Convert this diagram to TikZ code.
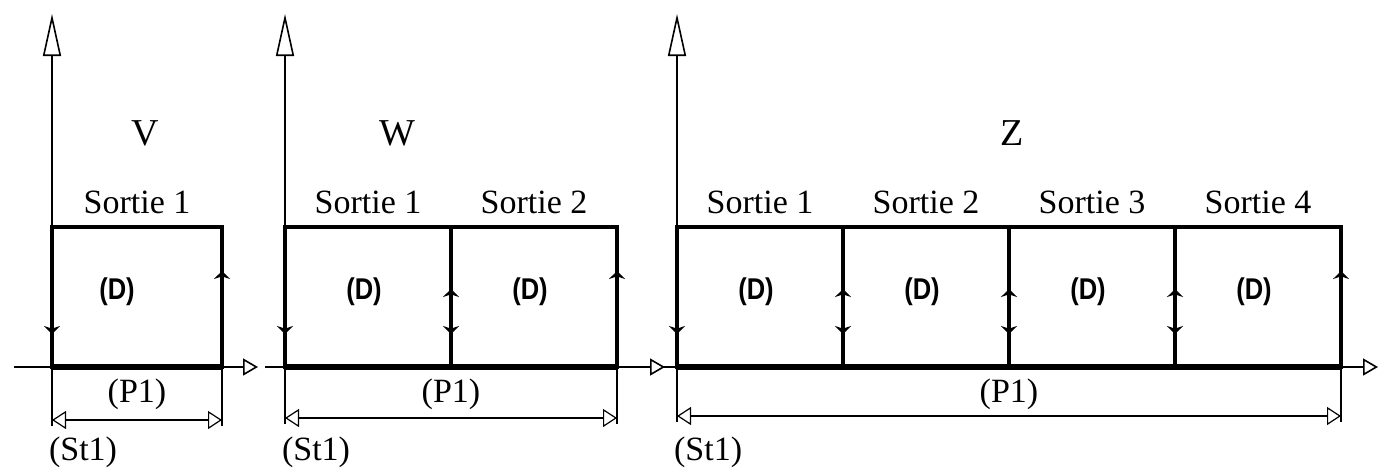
\documentclass[tikz,border=0pt]{standalone}
\usepackage{fontspec}
\setmainfont{Liberation Serif}
\newfontfamily\dfont{Liberation Sans}
\usetikzlibrary{arrows.meta,calc}
\tikzset{
  axe/.style={line width=0.8pt,-{Triangle[open,length=7.5pt,width=8.5pt,fill=white]}},
  axev/.style={line width=0.8pt,-{Triangle[open,length=21pt,width=9pt,fill=white]}},
  bord/.style={line width=1.7pt},
  fond/.style={line width=2.6pt},
  cote/.style={line width=0.6pt,{Triangle[open,length=7pt,width=9pt]}-{Triangle[open,length=7pt,width=9pt]}},
  flux/.style={line width=1.1pt,-{Stealth[length=4pt,width=8pt]}},
  lab/.style={font=\fontsize{17}{20}\selectfont},
  titre/.style={font=\fontsize{19}{22}\selectfont},
  dlab/.style={font=\dfont\bfseries\fontsize{15}{17}\selectfont,xscale=0.85}
}
\begin{document}
\begin{tikzpicture}[x=0.5pt,y=-0.5pt]
\useasboundingbox (0,0) rectangle (1381,468);
\foreach \nom/\x/\n/\w/\xg/\xd/\xl/\yc in {V/52/1/170/14/258/145/420,W/285/2/166/265/665/397/418,Z/677/4/166/662/1378/1012/416}{
  \coordinate (o\nom) at (\x,367);
  \coordinate (h\nom) at (\x,14);
  \coordinate (g\nom) at (\xg,367);
  \coordinate (d\nom) at (\xd,367);
  \coordinate (b\nom) at (\x+\n*\w,367);
  \coordinate (e\nom) at (\x+\n*\w,227);
  \coordinate (c1\nom) at (\x,\yc);
  \coordinate (c2\nom) at (\x+\n*\w,\yc);
  \draw[axev] (o\nom) -- (h\nom);
  \draw[axe] (g\nom) -- (d\nom);
  \draw[bord] (o\nom) rectangle (e\nom);
  \draw[fond] (o\nom) -- (b\nom);
  \draw[line width=0.6pt] (o\nom) -- ($(c1\nom)+(0,6)$) (b\nom) -- ($(c2\nom)+(0,6)$);
  \draw[cote] (c1\nom) -- (c2\nom);
  \node[titre] (t\nom) at (\xl,133) {\nom};
  \node[lab] (p\nom) at ($(o\nom)!0.5!(b\nom)+(0,27)$) {(P1)};
  \node[lab,anchor=west] (s\nom) at (\x-10,452) {(St1)};
  \foreach \k in {1,...,\n}{
    \pgfmathsetmacro\xa{\x+(\k-1)*\w}
    \pgfmathsetmacro\xb{\x+\k*\w}
    \pgfmathsetmacro\yt{\k<\n ? 294 : 276}
    \draw[bord] (\xb,227) -- (\xb,367);
    \draw[flux] (\xa,324) -- (\xa,334);
    \draw[flux] (\xb,\yt+5) -- (\xb,\yt-5);
    \node[lab] (so\nom\k) at ({(\xa+\xb)/2},202) {Sortie \k};
    \node[dlab] (dd\nom\k) at ({(\xa+\xb)/2-(\n==1)*16-4},292) {(D)};
  }
}
\end{tikzpicture}
\end{document}
